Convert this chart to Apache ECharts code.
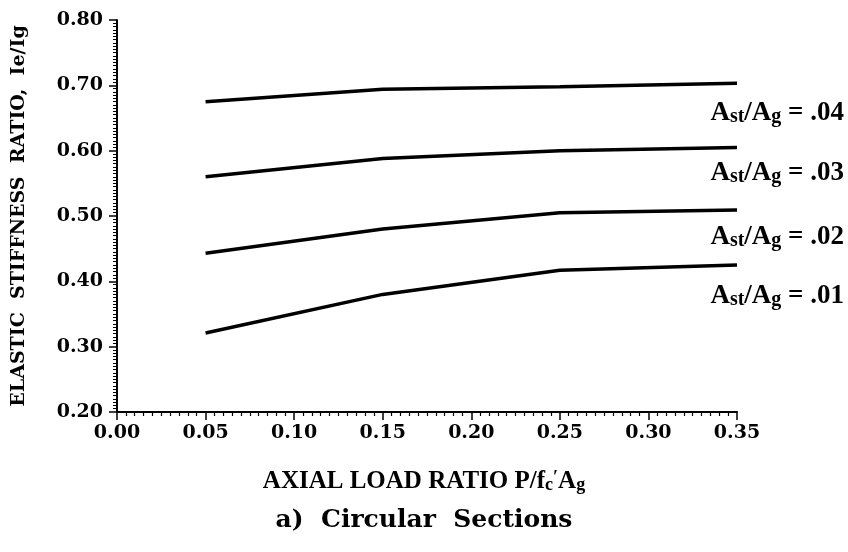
<!DOCTYPE html>
<html>
<head>
<meta charset="utf-8">
<script src="https://cdn.jsdelivr.net/npm/echarts@6/dist/echarts.min.js"></script>
<style>
  html, body { margin: 0; padding: 0; background: #fff; }
  #main { width: 848px; height: 552px; }
</style>
</head>
<body>
<div id="main"></div>
<script>
// axial load ratio P/f'c Ag
var loadRatio = [0.05, 0.15, 0.25, 0.35]
// elastic stiffness ratio Ie/Ig for each Ast/Ag
var ratio04 = [0.675, 0.694, 0.698, 0.703]
var ratio03 = [0.560, 0.588, 0.600, 0.605]
var ratio02 = [0.443, 0.480, 0.505, 0.509]
var ratio01 = [0.321, 0.380, 0.417, 0.425]
var steelLabels = ['.04', '.03', '.02', '.01']
var yTicks = [0.2, 0.3, 0.4, 0.5, 0.6, 0.7, 0.8]
var xTicks = [0, 0.05, 0.1, 0.15, 0.2, 0.25, 0.3, 0.35]

var slab = 'DejaVu Serif'
var times = 'Liberation Serif'

function pairs(ys) {
  return loadRatio.map(function (x, i) { return [x, ys[i]] })
}

var myChart = echarts.init(document.getElementById('main'))

var lines = [ratio04, ratio03, ratio02, ratio01]
var series = lines.map(function (ys, i) {
  return {
    name: steelLabels[i],
    type: 'line',
    data: pairs(ys),
    symbol: 'none',
    lineStyle: { color: '#000', width: 3.5 }
  }
})

// label tops under the line ends
var labelTop = [100, 160, 224, 283]
var graphics = steelLabels.map(function (s, i) {
  return {
    type: 'text',
    right: 4,
    top: labelTop[i],
    style: {
      text: '{a|A}{s|st}{a|/A}{s|g}{a| = ' + s + '}',
      rich: {
        a: { fontFamily: times, fontSize: 27, fontWeight: 'bold', color: '#000', lineHeight: 27, padding: [0, 0, 10, 0], verticalAlign: 'top' },
        s: { fontFamily: times, fontSize: 20, fontWeight: 'bold', color: '#000', lineHeight: 20, verticalAlign: 'bottom' }
      }
    }
  }
})

graphics.push({
  type: 'text',
  left: 'center',
  top: 469,
  style: {
    text: '{a|AXIAL LOAD RATIO P/f}{s|c}{p|\u2032}{a|A}{s|g}',
    rich: {
      a: { fontFamily: times, fontSize: 25, fontWeight: 'bold', color: '#000', lineHeight: 25, padding: [0, 0, 8, 0], verticalAlign: 'top' },
      s: { fontFamily: times, fontSize: 18, fontWeight: 'bold', color: '#000', lineHeight: 18, verticalAlign: 'bottom' },
      p: { fontFamily: times, fontSize: 18, fontWeight: 'bold', color: '#000', lineHeight: 18, verticalAlign: 'top' }
    }
  }
})

graphics.push({
  type: 'text',
  left: 'center',
  top: 508,
  style: {
    text: 'a)  Circular  Sections',
    fontFamily: slab,
    fontSize: 25,
    fontWeight: 'bold',
    fill: '#000'
  }
})

var option = {
  animation: false,
  backgroundColor: '#fff',
  grid: { left: 117, right: 111, top: 20, bottom: 140 },
  xAxis: {
    type: 'value',
    min: xTicks[0],
    max: xTicks[xTicks.length - 1],
    interval: 0.05,
    axisLine: { lineStyle: { color: '#000', width: 2 } },
    axisTick: { length: 8, lineStyle: { color: '#000', width: 1.5 } },
    minorTick: { show: true, splitNumber: 10, length: 4, lineStyle: { color: '#000', width: 1.2 } },
    splitLine: { show: false },
    axisLabel: {
      margin: 12,
      color: '#000',
      fontFamily: slab,
      fontWeight: 'bold',
      fontSize: 19,
      formatter: function (v) { return v.toFixed(2) }
    }
  },
  yAxis: {
    type: 'value',
    min: yTicks[0],
    max: yTicks[yTicks.length - 1],
    interval: 0.1,
    name: 'ELASTIC  STIFFNESS  RATIO,  Ie/Ig',
    nameLocation: 'middle',
    nameRotate: 90,
    nameGap: 88,
    nameTextStyle: { color: '#000', fontFamily: slab, fontWeight: 'bold', fontSize: 19 },
    axisLine: { show: true, lineStyle: { color: '#000', width: 2 } },
    axisTick: { show: true, length: 8, lineStyle: { color: '#000', width: 1.5 } },
    minorTick: { show: true, splitNumber: 20, length: 4, lineStyle: { color: '#000', width: 1 } },
    splitLine: { show: false },
    axisLabel: {
      margin: 14,
      color: '#000',
      fontFamily: slab,
      fontWeight: 'bold',
      fontSize: 19,
      formatter: function (v) { return v.toFixed(2) }
    }
  },
  graphic: graphics,
  series: series
}

myChart.setOption(option)
</script>
</body>
</html>
